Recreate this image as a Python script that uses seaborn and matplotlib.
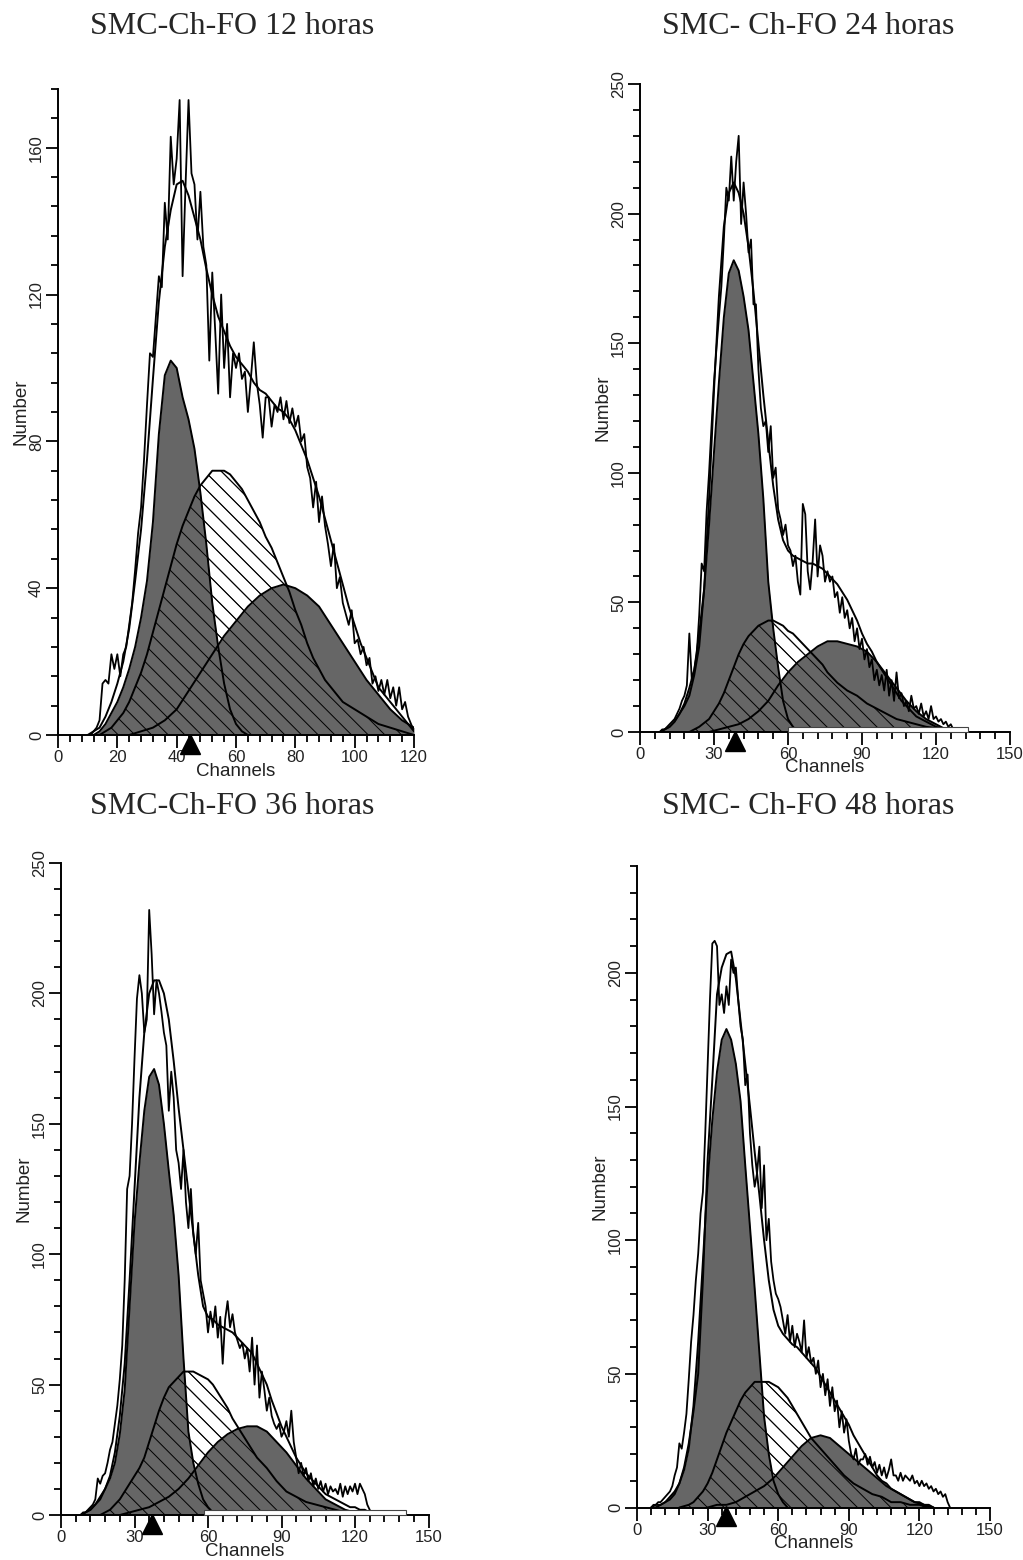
import numpy as np
import matplotlib
matplotlib.use("Agg")
import matplotlib.pyplot as plt
import matplotlib.transforms as mtransforms
from matplotlib.patches import Rectangle
from matplotlib.ticker import MultipleLocator
import seaborn as sns

sns.set_style("ticks")
plt.rcParams['font.family'] = ['Liberation Sans', 'DejaVu Sans']
plt.rcParams['hatch.linewidth'] = 0.7
plt.rcParams['hatch.color'] = 'black'

# ---------------- DATA ----------------
titles = ["SMC-Ch-FO 12 horas", "SMC- Ch-FO 24 horas",
          "SMC-Ch-FO 36 horas", "SMC- Ch-FO 48 horas"]

# Panel 1 (12 h)
p1_raw_start = 10
p1_raw = [0, 0, 1, 2, 4, 14, 15, 14, 22, 18, 22, 16, 22, 24, 30, 36, 45, 55, 62, 75,
          90, 104, 103, 114, 125, 122, 145, 135, 163, 150, 157, 173, 125, 150, 173, 153, 150, 135, 148, 133,
          128, 102, 126, 110, 93, 120, 100, 112, 92, 104, 100, 104, 97, 99, 88, 97, 107, 96, 90, 81,
          92, 92, 84, 90, 88, 92, 86, 91, 85, 89, 84, 87, 80, 82, 73, 70, 62, 69, 58, 65,
          57, 52, 46, 52, 40, 43, 36, 33, 30, 34, 25, 26, 22, 24, 19, 21, 14, 16, 12, 15,
          11, 15, 10, 13, 8, 13, 7, 9, 5, 3, 1]
p1_fit_ch = list(range(10, 121, 2))
p1_fit = [0, 1, 2, 5, 9, 14, 20, 29, 42, 56, 75, 97, 118, 133, 143, 150, 151, 147, 141, 135,
          127, 120, 114, 110, 106, 103, 101, 99, 96, 94, 93, 91, 89, 88, 86, 83, 79, 75, 70, 65,
          59, 53, 47, 41, 35, 30, 25, 21, 17, 13, 11, 9, 7, 5, 3, 1]
p1_g1_ch = list(range(12, 65, 2))
p1_g1 = [0, 1, 3, 6, 9, 13, 18, 24, 32, 42, 58, 82, 98, 102, 100, 92, 86, 78, 66, 52,
         36, 24, 14, 7, 3, 1, 0]
p1_s_ch = list(range(14, 101, 2)) + [104, 108, 112, 116, 120]
p1_s = [0, 1, 2, 4, 6, 9, 13, 17, 22, 28, 34, 40, 46, 52, 57, 61, 65, 68, 70, 72,
        72, 72, 71, 69, 67, 64, 61, 58, 54, 51, 47, 43, 39, 34, 30, 25, 21, 18, 15, 13,
        11, 9, 8, 7, 5, 3, 2, 1, 0]
p1_g2_ch = list(range(24, 121, 4))
p1_g2 = [0, 1, 2, 4, 7, 12, 17, 22, 27, 31, 35, 38, 40, 41, 40, 38, 35, 30, 25, 20,
         15, 11, 7, 4, 2]

# Panel 2 (24 h)
p2_raw_start = 8
p2_raw = [0, 1, 1, 2, 3, 4, 5, 7, 9, 12, 14, 18, 38, 20, 24, 30, 45, 65, 62, 85,
          100, 118, 135, 148, 160, 172, 190, 210, 205, 222, 205, 220, 230, 196, 212, 200, 185, 190, 165, 165,
          140, 125, 118, 120, 108, 118, 98, 102, 86, 82, 76, 80, 72, 70, 64, 68, 58, 53, 88, 84,
          62, 55, 66, 82, 60, 72, 68, 58, 62, 58, 60, 52, 54, 46, 52, 44, 47, 40, 44, 35,
          40, 32, 36, 28, 32, 25, 28, 20, 24, 18, 22, 16, 24, 14, 20, 12, 23, 13, 15, 10,
          12, 8, 14, 9, 10, 7, 11, 6, 8, 5, 10, 5, 6, 4, 5, 3, 4, 2, 3, 1, 0]
p2_fit_ch = list(range(8, 127, 2))
p2_fit = [0, 1, 2, 4, 7, 10, 14, 22, 33, 55, 90, 132, 168, 195, 208, 212, 208, 200, 187, 170,
          150, 130, 112, 95, 82, 74, 70, 68, 67, 66, 65, 65, 64, 63, 61, 59, 57, 54, 51, 47,
          43, 38, 34, 31, 27, 24, 21, 18, 15, 12, 10, 8, 6, 5, 4, 3, 2, 1.5, 1, 0]
p2_g1_ch = list(range(8, 65, 2))
p2_g1 = [0, 1, 2, 4, 7, 11, 17, 24, 38, 55, 80, 108, 135, 160, 177, 182, 178, 168, 155, 135,
         115, 90, 58, 40, 25, 12, 5, 2, 0]
p2_s_ch = [20, 24, 28] + list(range(30, 81, 2)) + list(range(84, 129, 4))
p2_s = [0, 2, 5, 8, 11, 15, 20, 25, 30, 34, 37, 39, 41, 42, 43, 43, 42, 41, 39, 38,
        36, 34, 32, 30, 28, 26, 23, 21, 19, 16, 14, 11, 9, 7, 5, 4, 3, 2, 1.5, 1, 0]
p2_g2_ch = list(range(28, 129, 4))
p2_g2 = [0, 1, 2, 3, 5, 8, 12, 18, 23, 27, 30, 33, 35, 35, 34, 33, 31, 27, 22, 17,
         12, 8, 5, 3, 1, 0]

# Panel 3 (36 h)
p3_raw_start = 8
p3_raw = [0, 1, 1, 2, 3, 4, 6, 14, 12, 15, 16, 20, 25, 28, 35, 42, 52, 65, 90, 125,
          130, 150, 175, 198, 207, 200, 185, 190, 232, 215, 192, 205, 200, 193, 185, 180, 155, 170, 160, 140,
          135, 125, 140, 120, 110, 125, 108, 100, 112, 90, 85, 80, 70, 78, 72, 80, 68, 76, 58, 75,
          82, 72, 77, 70, 67, 64, 66, 60, 64, 55, 68, 50, 65, 45, 55, 48, 40, 45, 38, 35,
          33, 35, 30, 32, 36, 30, 40, 28, 22, 16, 20, 15, 18, 13, 16, 11, 14, 10, 13, 9,
          12, 8, 11, 9, 10, 8, 12, 7, 11, 8, 11, 9, 12, 8, 12, 10, 8, 4, 2, 0]
p3_fit_ch = list(range(8, 131, 2))
p3_fit = [0, 1, 2, 4, 6, 10, 15, 24, 38, 58, 90, 125, 160, 185, 200, 205, 205, 200, 190, 174,
          156, 140, 124, 108, 92, 80, 76, 75, 73, 72, 71, 70, 68, 66, 64, 62, 58, 54, 50, 44,
          39, 34, 30, 26, 22, 19, 16, 14, 12, 10, 8, 7, 6, 5, 4, 3, 3, 2, 2, 1, 1, 0]
p3_g1_ch = list(range(8, 65, 2))
p3_g1 = [0, 1, 2, 4, 7, 10, 14, 20, 31, 48, 80, 112, 135, 155, 168, 171, 165, 150, 132, 115,
         92, 60, 32, 20, 12, 6, 3, 1, 0]
p3_s_ch = list(range(16, 85, 2)) + list(range(88, 121, 4))
p3_s = [0, 1, 2, 4, 6, 9, 12, 15, 18, 22, 28, 34, 40, 45, 49, 51, 53, 55, 55, 55,
        54, 53, 52, 50, 47, 44, 41, 37, 34, 31, 28, 25, 22, 20, 18,
        13, 9, 7, 5, 4, 3, 2, 1, 0]
p3_g2_ch = list(range(24, 125, 4))
p3_g2 = [0, 1, 2, 3, 5, 7, 10, 14, 19, 24, 28, 31, 33, 34, 34, 32, 28, 24, 19, 14,
         10, 6, 4, 2, 1, 0]

# Panel 4 (48 h)
p4_raw_start = 6
p4_raw = [0, 1, 1, 2, 2, 3, 4, 5, 6, 8, 12, 15, 24, 22, 28, 35, 48, 62, 72, 85,
          95, 110, 118, 140, 165, 190, 211, 212, 210, 188, 192, 185, 195, 188, 205, 200, 202, 190, 180, 175,
          158, 162, 140, 128, 120, 125, 135, 112, 128, 100, 108, 92, 85, 80, 78, 75, 70, 65, 72, 62,
          68, 60, 65, 62, 58, 70, 56, 60, 54, 56, 50, 55, 45, 50, 42, 48, 38, 45, 36, 40,
          30, 36, 28, 33, 25, 20, 18, 22, 16, 18, 18, 20, 16, 19, 15, 17, 13, 16, 12, 15,
          11, 14, 18, 12, 12, 10, 13, 10, 12, 11, 10, 12, 9, 10, 8, 10, 8, 9, 7, 8,
          6, 7, 5, 6, 4, 5, 2, 0]
p4_fit_ch = list(range(8, 127, 2))
p4_fit = [0, 1, 2, 3, 5, 9, 15, 24, 36, 50, 85, 130, 160, 192, 202, 207, 208, 198, 182, 166,
          150, 133, 117, 100, 85, 74, 68, 65, 63, 61, 60, 58, 56, 54, 52, 49, 46, 43, 40, 37,
          34, 31, 27, 24, 21, 18, 15, 12, 10, 9, 7, 6, 5, 4, 3, 2, 2, 1, 1, 0]
p4_g1_ch = list(range(6, 65, 2))
p4_g1 = [0, 1, 1, 2, 4, 6, 9, 14, 22, 38, 62, 92, 122, 145, 163, 175, 179, 175, 166, 152,
         128, 105, 82, 58, 34, 20, 10, 5, 2, 0]
p4_s_ch = [18, 22] + list(range(24, 81, 2)) + list(range(84, 125, 4))
p4_s = [0, 1, 2, 4, 6, 9, 13, 18, 23, 28, 32, 36, 40, 43, 45, 47, 47, 47, 47, 46,
        45, 43, 41, 38, 35, 32, 29, 26, 24, 22, 20, 16, 12, 9, 7, 5, 4, 2, 2, 1, 1, 0]
p4_g2_ch = list(range(30, 127, 4))
p4_g2 = [0, 1, 1, 2, 4, 6, 8, 11, 15, 19, 23, 26, 27, 26, 23, 20, 17, 14, 11, 8,
         6, 4, 2, 1, 0]

g1_mean_marker = [44.5, 38.7, 37.2, 38.0]
gates = [None, (60, 133), (58.5, 141), None]

# ---------------- LAYOUT ----------------
W, H = 1023, 1560
fig = plt.figure(figsize=(W / 100, H / 100), dpi=100)
fig.patch.set_facecolor('white')

# pixel boxes: left, right, top, bottom(x-axis)
boxes = [(58, 414, 89, 735), (640, 1010, 84, 732), (61, 428.5, 863, 1515), (637, 990, 866, 1507.5)]
limits = [(120, 176, 20, 4, 40, 8), (150, 250, 30, 6, 50, 10),
          (150, 250, 30, 6, 50, 10), (150, 240, 30, 6, 50, 10)]
title_pos = [(232, 27), (808, 27), (232, 806), (808, 806)]

data = [
    (p1_raw_start, p1_raw, p1_fit_ch, p1_fit, p1_g1_ch, p1_g1, p1_s_ch, p1_s, p1_g2_ch, p1_g2),
    (p2_raw_start, p2_raw, p2_fit_ch, p2_fit, p2_g1_ch, p2_g1, p2_s_ch, p2_s, p2_g2_ch, p2_g2),
    (p3_raw_start, p3_raw, p3_fit_ch, p3_fit, p3_g1_ch, p3_g1, p3_s_ch, p3_s, p3_g2_ch, p3_g2),
    (p4_raw_start, p4_raw, p4_fit_ch, p4_fit, p4_g1_ch, p4_g1, p4_s_ch, p4_s, p4_g2_ch, p4_g2),
]

GRAY = '#666666'
HATCH = '\\\\'
LW = 1.4

for i in range(4):
    l, r, t, b = boxes[i]
    ax = fig.add_axes([l / W, (H - b) / H, (r - l) / W, (b - t) / H])
    ax.set_facecolor('none')
    rs, raw, fch, fit, g1c, g1, sc, s, g2c, g2 = data[i]
    raw_ch = list(range(rs, rs + len(raw)))

    ax.fill_between(sc, 0, s, facecolor='white', edgecolor='black', hatch=HATCH, linewidth=0, zorder=1)
    ax.fill_between(g1c, 0, g1, facecolor=GRAY, linewidth=0, zorder=2)
    ax.fill_between(g2c, 0, g2, facecolor=GRAY, linewidth=0, zorder=2)
    ax.fill_between(sc, 0, s, facecolor='none', edgecolor='black', hatch=HATCH, linewidth=0, zorder=3)
    for xc, yv in [(g1c, g1), (sc, s), (g2c, g2)]:
        sns.lineplot(x=xc, y=yv, ax=ax, color='black', linewidth=LW, estimator=None, sort=False, zorder=4)
    sns.lineplot(x=fch, y=fit, ax=ax, color='black', linewidth=LW, estimator=None, sort=False, zorder=5)
    sns.lineplot(x=raw_ch, y=raw, ax=ax, color='black', linewidth=1.3, estimator=None, sort=False, zorder=6)

    if gates[i] is not None:
        g0, g1e = gates[i]
        ax.add_patch(Rectangle((g0, 0), g1e - g0, limits[i][1] * 0.008, facecolor='white',
                               edgecolor='#444444', linewidth=0.8, zorder=7, clip_on=False))

    xmax, ymax, xmaj, xmin, ymaj, ymin = limits[i]
    ax.set_xlim(0, xmax)
    ax.set_ylim(0, ymax)
    ax.xaxis.set_major_locator(MultipleLocator(xmaj))
    ax.xaxis.set_minor_locator(MultipleLocator(xmin))
    ax.yaxis.set_major_locator(MultipleLocator(ymaj))
    ax.yaxis.set_minor_locator(MultipleLocator(ymin))
    sns.despine(ax=ax)
    for sp in ['left', 'bottom']:
        ax.spines[sp].set_linewidth(1.4)
        ax.spines[sp].set_color('black')
    ax.tick_params(which='major', length=9, width=1.3, direction='out', labelsize=12, pad=2,
                   colors='black', labelcolor='#222222')
    ax.tick_params(which='minor', length=5, width=1.3, direction='out', colors='black')
    ax.tick_params(axis='y', labelrotation=90, pad=1)
    for lab in ax.get_yticklabels():
        lab.set_va('center')
    ax.set_xlabel('Channels', fontsize=13.5, labelpad=-2, color='#222222')
    ax.set_ylabel('Number', fontsize=13.5, labelpad=0, color='#222222')

    # G1 mean marker
    trans = mtransforms.blended_transform_factory(ax.transData, ax.transAxes)
    ax.plot([g1_mean_marker[i]], [-0.014], transform=trans, marker='^', ms=14, color='black',
            clip_on=False, zorder=10)

    tx, ty = title_pos[i]
    fig.text(tx / W, 1 - ty / H, titles[i], ha='center', va='center', fontsize=23,
             family=['Liberation Serif', 'DejaVu Serif'])

fig.savefig('out.png', dpi=100)
